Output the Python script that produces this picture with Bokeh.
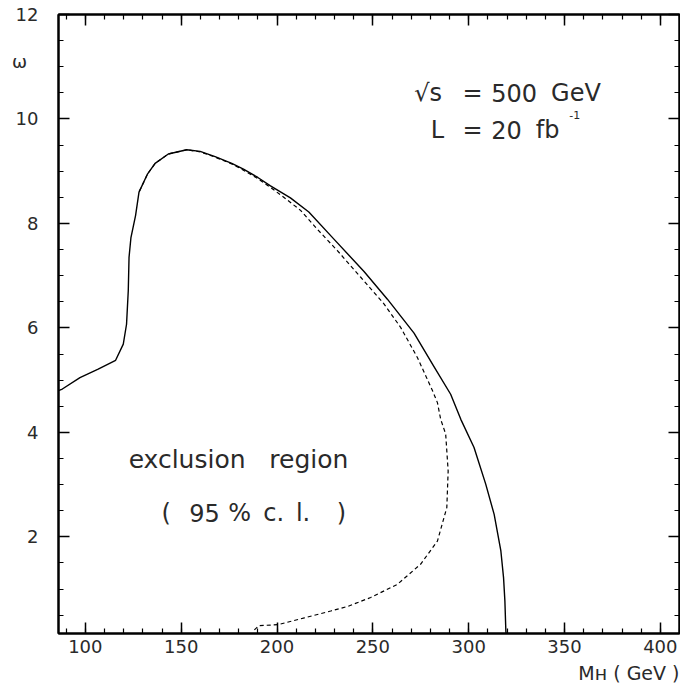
from bokeh.plotting import figure
from bokeh.models import FixedTicker, LinearAxis, Label, CustomJSTickFormatter, Title
from bokeh.embed import file_html
from bokeh.resources import INLINE

# ---- data ----
solid_mh = [86, 88, 97.2, 106.7, 115.8, 119.8, 121.5, 122.4, 122.8, 123.8, 126.2, 128,
            132.5, 136.4, 143.3, 152.9, 159.9, 167.7, 176.4, 182.5, 190, 196.6, 207,
            216.6, 229.7, 245.4, 257.6, 271.5, 281.9, 290.6, 295.9, 302.8, 308.9, 313.3,
            316.8, 318.2, 318.9, 319.4, 319.5]
solid_w = [4.80, 4.83, 5.05, 5.21, 5.38, 5.69, 6.07, 6.71, 7.35, 7.73, 8.15, 8.60,
           8.95, 9.15, 9.33, 9.41, 9.38, 9.28, 9.15, 9.04, 8.88, 8.72, 8.49,
           8.22, 7.70, 7.08, 6.55, 5.90, 5.26, 4.73, 4.25, 3.71, 3.01, 2.43,
           1.73, 1.22, 0.77, 0.20, 0.15]

dashed_mh = [188.2, 190.5, 200.7, 214.3, 228, 237, 248.9, 262.8, 275, 283.7, 288.6,
             289.3, 288.0, 285.4, 283.7, 281.1, 273.3, 264.5, 255.8, 243.7, 231.5,
             221, 212.3, 205, 196.6, 190, 182.5, 176.4, 167.7, 160, 152.9, 143.3,
             136.4, 132.5, 128]
dashed_w = [0.22, 0.30, 0.32, 0.45, 0.58, 0.67, 0.84, 1.09, 1.48, 1.92, 2.56,
            3.26, 3.97, 4.25, 4.57, 4.80, 5.43, 6.01, 6.46, 6.97, 7.48,
            7.89, 8.25, 8.46, 8.69, 8.86, 9.02, 9.14, 9.27, 9.37, 9.41, 9.33,
            9.15, 8.95, 8.60]

x_major = [100, 150, 200, 250, 300, 350, 400]
x_minor = list(range(90, 411, 10))
y_major = [2, 4, 6, 8, 10, 12]
y_minor = [0.5 * i for i in range(1, 25)]
y_symbol_at = 11.1           # height of the "ω" axis symbol
x_title = "M\u029c ( GeV )"

FONT = "DejaVu Sans"
TXT = "#2a2a2a"

p = figure(width=680, height=693, x_range=(86, 410), y_range=(0.15, 12),
           output_backend="svg", toolbar_location=None, y_axis_location=None,
           min_border_left=58, min_border_right=1, min_border_top=14,
           min_border_bottom=60)
p.grid.visible = False
p.background_fill_color = "white"
p.border_fill_color = "white"
p.outline_line_color = "black"
p.outline_line_width = 2

xt = FixedTicker(ticks=x_major, minor_ticks=x_minor)
yt = FixedTicker(ticks=y_major, minor_ticks=y_minor)
blank = CustomJSTickFormatter(code="return ''")


def style(ax, labels=True):
    ax.axis_line_color = "black"
    ax.axis_line_width = 2
    ax.major_tick_in = 11
    ax.major_tick_out = 0
    ax.minor_tick_in = 5
    ax.minor_tick_out = 0
    ax.major_tick_line_color = "black"
    ax.minor_tick_line_color = "black"
    ax.major_tick_line_width = 1.5
    ax.minor_tick_line_width = 1.2
    if labels:
        ax.major_label_text_font = FONT
        ax.major_label_text_font_size = "18px"
        ax.major_label_text_color = TXT
    else:
        ax.formatter = blank
        ax.major_label_standoff = 0


# bottom axis (labels)
p.xaxis.ticker = xt
style(p.xaxis[0])
p.xaxis.major_label_standoff = 6

# left: tick marks only (nearest the frame)
la = LinearAxis(ticker=yt)
style(la, labels=False)
p.add_layout(la, "left")

# left: numeric labels plus the omega symbol, no marks
lb = LinearAxis(ticker=FixedTicker(ticks=y_major + [y_symbol_at]),
                formatter=CustomJSTickFormatter(
                    code="return (tick > 10.5 && tick < 11.5) ? '\u03c9\u00a0\u00a0' : tick.toFixed(0)"))
lb.axis_line_color = None
lb.major_tick_line_color = None
lb.minor_tick_line_color = None
lb.major_tick_in = 0
lb.major_tick_out = 0
lb.minor_tick_in = 0
lb.minor_tick_out = 0
lb.major_label_standoff = 20
lb.major_label_text_font = FONT
lb.major_label_text_font_size = "18px"
lb.major_label_text_color = TXT
p.add_layout(lb, "left")

ra = LinearAxis(ticker=yt)
style(ra, labels=False)
p.add_layout(ra, "right")
ta = LinearAxis(ticker=xt)
style(ta, labels=False)
p.add_layout(ta, "above")

p.line(solid_mh, solid_w, line_color="black", line_width=1.4)
p.line(dashed_mh, dashed_w, line_color="black", line_width=1.2, line_dash="4 3")


def lab(x, y, text, size, align="center", baseline="alphabetic"):
    p.add_layout(Label(x=x, y=y, text=text, text_font=FONT, text_font_size=size,
                       text_align=align, text_baseline=baseline, text_color=TXT))


# sqrt(s) line
lab(278.9, 10.49, "\u221as", "24px")
lab(302.0, 10.49, "=", "24px")
lab(323.7, 10.49, "500", "24px")
lab(356.0, 10.49, "GeV", "24px")
# luminosity line
lab(283.7, 9.79, "L", "24px")
lab(302.0, 9.79, "=", "24px")
lab(319.7, 9.79, "20", "24px")
lab(341.2, 9.79, "fb", "24px")
lab(355.4, 10.07, "-1", "11px")
# region text
lab(153.1, 3.49, "exclusion", "25px")
lab(216.6, 3.49, "region", "25px")
lab(142.2, 2.465, "(", "24px")
lab(162.2, 2.465, "95", "24px")
lab(180.5, 2.465, "%", "24px")
lab(198.3, 2.465, "c.", "24px")
lab(213.6, 2.465, "l.", "24px")
lab(233.6, 2.465, ")", "24px")

# x axis title, bottom right
p.add_layout(Title(text=x_title, align="right", text_font=FONT,
                   text_font_size="19px", text_font_style="normal",
                   text_color=TXT, standoff=9), "below")

open("out.html", "w").write(file_html(p, INLINE))
